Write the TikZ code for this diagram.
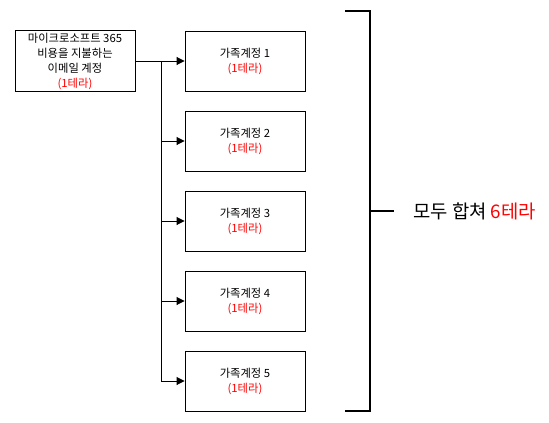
\documentclass[tikz,border=0pt]{standalone}
\usepackage{fontspec}
\setmainfont{Noto Sans CJK KR}
\usetikzlibrary{arrows.meta}

\tikzset{
	account/.style={draw, line width=0.9pt, minimum width=120pt, minimum height=60pt,
		align=center, inner sep=2pt, font=\fontsize{11.3}{15}\selectfont},
	feed/.style={line width=0.9pt, -{Triangle[length=8pt,width=8pt]}}
}

\begin{document}
\begin{tikzpicture}[x=1pt,y=-1pt]
			\useasboundingbox (0,0) rectangle (549,423);

			\node[account] (Source) at (75,61)
			{마이크로소프트 365\\비용을 지불하는\\이메일 계정\\\textcolor{red}{(1테라)}};

			\foreach \i in {1,...,5}{
				\node[account] (Family\i) at (245,{61+80*(\i-1)})
				{가족계정 \i\\\textcolor{red}{(1테라)}};
			}

			%Connectors
			\coordinate (Split) at (161,61);
			\draw[feed] (Source.east) -- (Family1.west);
			\foreach \i in {2,...,5}{
				\draw[feed] (Split) |- (Family\i.west);
			}

			%Bracket
			\draw[line width=1.6pt] (345,11) -- (370,11) -- (370,411) -- (345,411);
			\draw[line width=1.6pt] (370,211) -- (394,211);
			\node[anchor=west, inner sep=0pt, font=\fontsize{18.8}{22}\selectfont] (Total) at (413,211)
			{모두 합쳐 \textcolor{red}{6테라}};
		\end{tikzpicture}
\end{document}
